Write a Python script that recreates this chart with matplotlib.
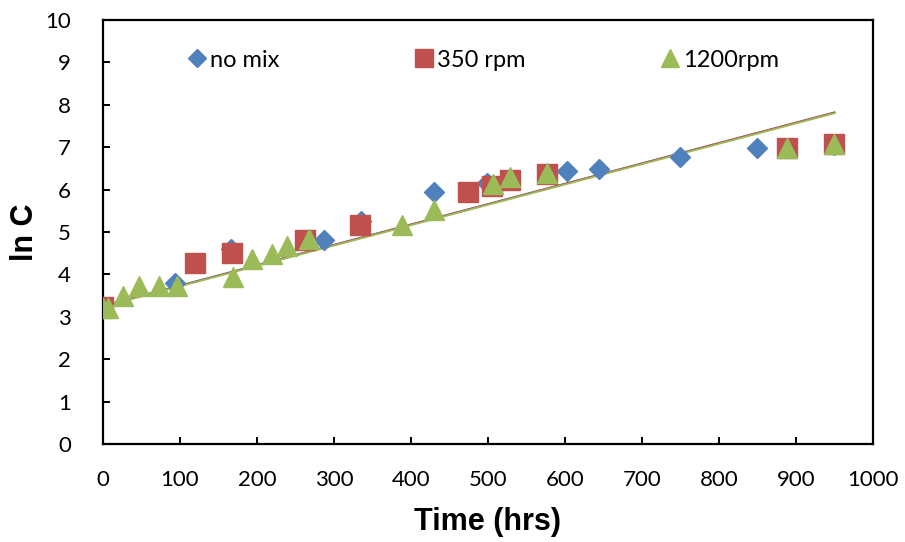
import numpy as np
import matplotlib
matplotlib.use("Agg")
import matplotlib.pyplot as plt

# Measured ln C against elapsed time for three mixing conditions
t_nomix = [0, 94, 166, 287, 335, 430, 499, 602, 644, 750, 850, 950]
lnc_nomix = [3.23, 3.80, 4.60, 4.80, 5.25, 5.94, 6.15, 6.44, 6.49, 6.77, 6.98, 7.05]

t_350 = [0, 120, 168, 262, 334, 474, 505, 529, 577, 888, 950]
lnc_350 = [3.23, 4.27, 4.50, 4.81, 5.16, 5.95, 6.09, 6.23, 6.37, 6.98, 7.08]

t_1200 = [0, 6, 26, 47, 73, 96, 169, 194, 219, 239, 267, 388, 430, 506, 529, 577, 888, 950]
lnc_1200 = [3.20, 3.20, 3.49, 3.73, 3.73, 3.72, 3.95, 4.36, 4.47, 4.66, 4.83, 5.17,
            5.52, 6.14, 6.30, 6.39, 6.98, 7.07]

# Linear trend lines (intercept, slope per hour) for each condition
trend_nomix = (3.26, 0.00480)
trend_350 = (3.25, 0.00481)
trend_1200 = (3.24, 0.00480)
trend_span = (0, 950)

labels = ["no mix", "350 rpm", "1200rpm"]
colors = ["#4F81BD", "#C0504D", "#9BBB59"]

plt.rcParams["font.family"] = ["Lato", "DejaVu Sans"]
bold_font = {"family": ["Liberation Sans", "DejaVu Sans"], "weight": "bold", "size": 22}

fig = plt.figure(figsize=(9.05, 5.42), dpi=100)
ax = fig.add_axes([0.1138, 0.1808, 0.8508, 0.7823])

tt = np.array(trend_span, dtype=float)
for (b0, b1), c in zip([trend_nomix, trend_350, trend_1200], colors):
    ax.plot(tt, b0 + b1 * tt, color=c, lw=1.3, zorder=2)

ax.plot(t_nomix, lnc_nomix, ls="none", marker="D", ms=10.2, color=colors[0],
        mec=colors[0], label=labels[0], zorder=3)
ax.plot(t_350, lnc_350, ls="none", marker="s", ms=14.0, color=colors[1],
        mec=colors[1], label=labels[1], zorder=4)
ax.plot(t_1200, lnc_1200, ls="none", marker="^", ms=14.5, color=colors[2],
        mec=colors[2], label=labels[2], zorder=5)

ax.set_xlim(0, 1000)
ax.set_ylim(0, 10)
ax.set_xticks(np.arange(0, 1001, 100))
ax.set_yticks(np.arange(0, 11, 1))

for s in ax.spines.values():
    s.set_linewidth(1.6)
ax.tick_params(axis="both", direction="in", length=5, width=1.4,
               labelsize=16, colors="black")
ax.tick_params(axis="x", pad=19)
ax.tick_params(axis="y", pad=23)

ax.set_xlabel("Time (hrs)", fontdict=bold_font, labelpad=12)
ax.set_ylabel("ln C", fontdict=bold_font, labelpad=4)

leg = ax.legend(loc="upper left", bbox_to_anchor=(0.079, 0.98), ncol=3,
                frameon=False, fontsize=17, handletextpad=0.05,
                columnspacing=5.62, markerscale=0.9, handlelength=1.0)

fig.savefig("out.png", dpi=100)
